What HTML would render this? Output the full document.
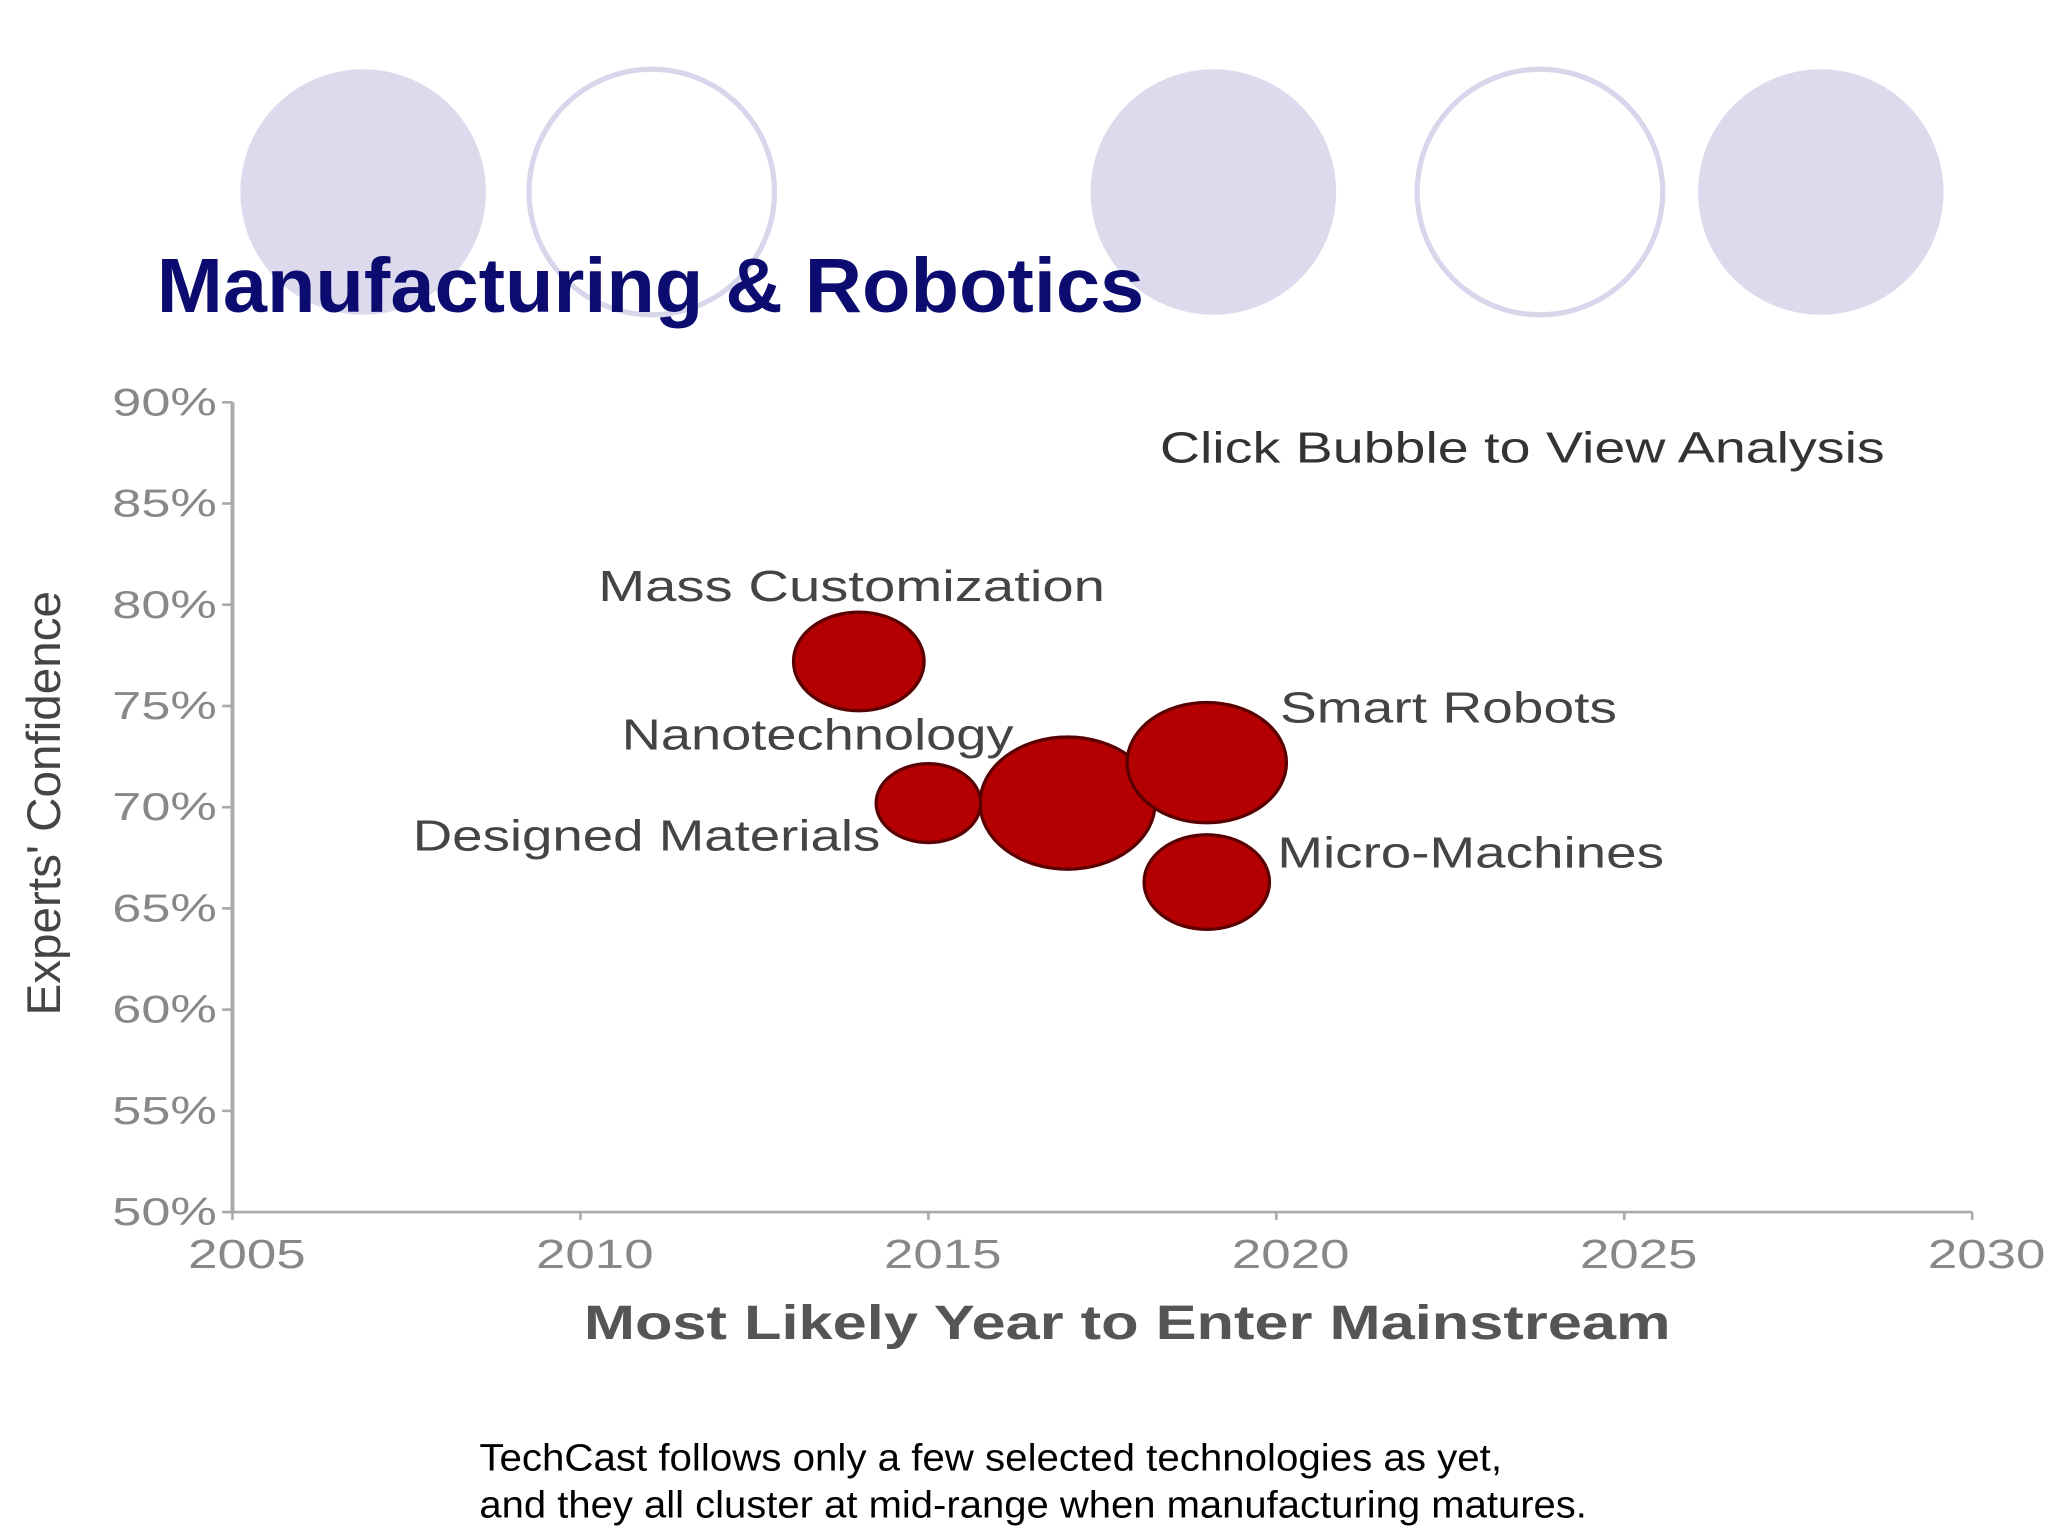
<!DOCTYPE html>
<html><head><meta charset="utf-8"><style>html,body{margin:0;padding:0;background:#fff}svg{display:block}</style></head>
<body>
<svg width="2048" height="1536" viewBox="0 0 1568 1176" xmlns="http://www.w3.org/2000/svg" font-family="Liberation Sans, sans-serif">
<g>
<circle cx="278" cy="147" r="94" fill="#dcdaec"/>
<circle cx="499" cy="147" r="94" fill="none" stroke="#d8d6ea" stroke-width="4"/>
<circle cx="929" cy="147" r="94" fill="#dcdaec"/>
<circle cx="1179" cy="147" r="94" fill="none" stroke="#d8d6ea" stroke-width="4"/>
<circle cx="1394" cy="147" r="94" fill="#dcdaec"/>
</g>
<text x="120" y="239" font-size="59" font-weight="bold" fill="#0c0c70" textLength="756" lengthAdjust="spacingAndGlyphs">Manufacturing &amp; Robotics</text>
<g id="chart"></g>
<text x="888" y="354" font-size="33" fill="#333" textLength="555" lengthAdjust="spacingAndGlyphs">Click Bubble to View Analysis</text>
<text x="367" y="1126" font-size="29" fill="#000" textLength="783" lengthAdjust="spacingAndGlyphs">TechCast follows only a few selected technologies as yet,</text>
<text x="367" y="1162" font-size="29" fill="#000" textLength="848" lengthAdjust="spacingAndGlyphs">and they all cluster at mid-range when manufacturing matures.</text>
</svg>
<script>
const names = ["Mass Customization","Nanotechnology","Designed Materials","Smart Robots","Micro-Machines"];
const years = [2014, 2017, 2015, 2019, 2019];
const confidence = [77.2, 70.2, 70.2, 72.2, 66.3];
const sizes = [50, 67, 40, 61, 48];
const xTicks = [2005, 2010, 2015, 2020, 2025, 2030];
const yTicks = [50, 55, 60, 65, 70, 75, 80, 85, 90];
const xTickLabels = ["2005","2010","2015","2020","2025","2030"];
const yTickLabels = ["50%","55%","60%","65%","70%","75%","80%","85%","90%"];

const NS = "http://www.w3.org/2000/svg";
const g = document.getElementById('chart');
const X0=178, X1=1510, Y0=928, Y1=308;
const xs = v => X0 + (v-2005)/(2030-2005)*(X1-X0);
const ys = v => Y0 - (v-50)/(90-50)*(Y0-Y1);
function mk(tag, attrs, txt){const e=document.createElementNS(NS,tag);for(const k in attrs)e.setAttribute(k,attrs[k]);if(txt!==undefined)e.textContent=txt;g.appendChild(e);return e;}

let a = mk('line',{x1:X0,y1:Y1,x2:X0,y2:Y0,stroke:'#aaa','stroke-width':3});


a = mk('line',{x1:X0,y1:Y0,x2:X1,y2:Y0,stroke:'#aaa','stroke-width':2});



yTicks.forEach((v,i)=>{
  const t = mk('line',{x1:X0-8,y1:ys(v),x2:X0,y2:ys(v),stroke:'#aaa','stroke-width':2});
  
  
  const l = mk('text',{x:86,y:ys(v)+10,'font-size':30,fill:'#888',textLength:80,lengthAdjust:'spacingAndGlyphs'},yTickLabels[i]);
  
  
});
xTicks.forEach((v,i)=>{
  const t = mk('line',{x1:xs(v),y1:Y0,x2:xs(v),y2:Y0+6,stroke:'#aaa','stroke-width':2});
  
  
  const l = mk('text',{x:xs(v)-34,y:Y0+43,'font-size':31,fill:'#888',textLength:90,lengthAdjust:'spacingAndGlyphs'},xTickLabels[i]);
  
  
});
let tt = mk('text',{x:447,y:1025,'font-size':37,fill:'#555',textLength:832,lengthAdjust:'spacingAndGlyphs','font-weight':'bold'},'Most Likely Year to Enter Mainstream');


tt = mk('text',{x:0,y:0,'font-size':36,fill:'#444','text-anchor':'middle',textLength:325,lengthAdjust:'spacingAndGlyphs',transform:'translate(46,615) rotate(-90)'},"Experts' Confidence");



const labelPos = [[458,460,388],[476,574,300],[316,651,358],[980,553,258],[978,664,296]];
years.forEach((y,i)=>{
  const b = mk('ellipse',{cx:xs(y),cy:ys(confidence[i]),rx:sizes[i],ry:sizes[i]*0.755,fill:'#b40000',stroke:'#5a0000','stroke-width':2.5});
  
  
});
names.forEach((n,i)=>{
  const p = labelPos[i];
  const l = mk('text',{x:p[0],y:p[1],'font-size':33,fill:'#444',textLength:p[2],lengthAdjust:'spacingAndGlyphs'},n);
  
  
});
</script>
</body></html>
